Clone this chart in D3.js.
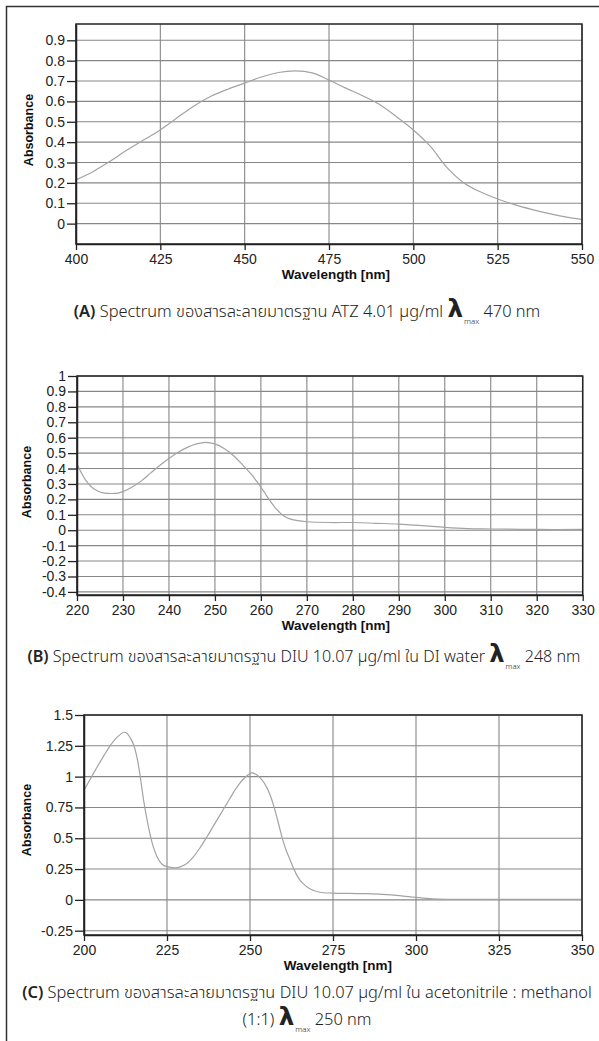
<!DOCTYPE html>
<html><head><meta charset="utf-8">
<script src="https://cdn.jsdelivr.net/npm/d3@7"></script>
<style>
html,body{margin:0;padding:0;background:#fff;}
svg{display:block;}
</style></head>
<body>
<script>
// ---------- DATA ----------
// Panel A: ATZ 4.01 µg/ml
const wavelengthA = [400,405,410,415,420,425,430,435,440,445,450,455,460,465,470,475,480,485,490,495,500,505,510,515,520,525,530,535,540,545,550];
const absorbanceA = [0.215,0.255,0.305,0.36,0.41,0.46,0.52,0.578,0.625,0.66,0.69,0.72,0.742,0.75,0.74,0.705,0.665,0.628,0.585,0.525,0.46,0.38,0.275,0.2,0.155,0.121,0.093,0.07,0.05,0.033,0.02];
const xTicksA = [400,425,450,475,500,525,550];
const yTicksA = [0,0.1,0.2,0.3,0.4,0.5,0.6,0.7,0.8,0.9];

// Panel B: DIU 10.07 µg/ml in DI water
const wavelengthB = [220,221,222,223,224,225,226,227.5,229,230,232,234,236,238,240,242,244,246,248,250,252,254,256,258,259,260,261,262,263,264,265,266,268,270,275,280,285,290,295,300,305,310,320,330];
const absorbanceB = [0.43,0.37,0.32,0.285,0.262,0.248,0.241,0.238,0.241,0.25,0.28,0.32,0.37,0.42,0.465,0.505,0.537,0.56,0.57,0.56,0.53,0.485,0.425,0.36,0.32,0.28,0.235,0.19,0.15,0.118,0.092,0.077,0.062,0.055,0.05,0.05,0.045,0.04,0.03,0.018,0.01,0.008,0.005,0.005];
const xTicksB = [220,230,240,250,260,270,280,290,300,310,320,330];
const yTicksB = [-0.4,-0.3,-0.2,-0.1,0,0.1,0.2,0.3,0.4,0.5,0.6,0.7,0.8,0.9,1];

// Panel C: DIU 10.07 µg/ml in acetonitrile : methanol (1:1)
const wavelengthC = [200,202,204,206,208,210,212,213,214,215,216,217,218,219,220,221,222,223,224,226,227.5,229,231,233,235,237,239,241,243,245,247,249,250.5,252,254,255,256,257,258,259,260,261,262,263,264,265,266,268,271,275,280,285,290,295,300,305,310,320,335,350];
const absorbanceC = [0.89,0.985,1.08,1.17,1.255,1.32,1.36,1.35,1.31,1.255,1.15,0.99,0.8,0.65,0.52,0.42,0.35,0.305,0.28,0.263,0.26,0.268,0.295,0.35,0.425,0.51,0.6,0.69,0.78,0.87,0.95,1.005,1.03,1.015,0.96,0.915,0.855,0.775,0.68,0.575,0.475,0.395,0.33,0.265,0.205,0.163,0.132,0.09,0.062,0.055,0.052,0.05,0.045,0.035,0.02,0.008,0.005,0.005,0.004,0.005];
const xTicksC = [200,225,250,275,300,325,350];
const yTicksC = [-0.25,0,0.25,0.5,0.75,1,1.25,1.5];

const captionA = {tag:"(A)", text:" Spectrum ของสารละลายมาตรฐาน ATZ 4.01 µg/ml ", tail:" 470 nm"};
const captionB = {tag:"(B)", text:" Spectrum ของสารละลายมาตรฐาน DIU 10.07 µg/ml ใน DI water ", tail:" 248 nm"};
const captionC1 = {tag:"(C)", text:" Spectrum ของสารละลายมาตรฐาน DIU 10.07 µg/ml ใน acetonitrile : methanol"};
const captionC2 = {text:"(1:1) ", tail:" 250 nm"};

// ---------- LAYOUT ----------
const W = 599, H = 1041;
const svg = d3.select("body").append("svg").attr("width", W).attr("height", H);
svg.append("rect").attr("width", W).attr("height", H).attr("fill", "#fff");
// outer frame (left + top)
svg.append("path").attr("d", `M6.5,${H} V6.5 H${W}`).attr("fill","none").attr("stroke","#333").attr("stroke-width",1.5);

const fmt = v => String(+v.toFixed(2));
const captionFont = '"Noto Sans","Noto Sans Thai","Open Sans",sans-serif';
const tickFont = '"Liberation Sans",Arial,sans-serif';

function panel(cfg) {
  const x = d3.scaleLinear().domain(cfg.xDomain).range([cfg.left, cfg.right]);
  const y = d3.scaleLinear().domain(cfg.yDomain).range([cfg.bottom, cfg.top]);
  const g = svg.append("g");
  // grid
  g.selectAll("line.hg").data(cfg.yTicks).join("line")
    .attr("x1", cfg.left).attr("x2", cfg.right)
    .attr("y1", d => y(d)).attr("y2", d => y(d))
    .attr("stroke", "#878787").attr("stroke-width", 1.1);
  g.selectAll("line.vg").data(cfg.xTicks).join("line")
    .attr("y1", cfg.top).attr("y2", cfg.bottom)
    .attr("x1", d => x(d)).attr("x2", d => x(d))
    .attr("stroke", "#878787").attr("stroke-width", 1.1);
  // curve
  g.append("path")
    .datum(cfg.xs.map((w, i) => [w, cfg.ys[i]]))
    .attr("fill", "none").attr("stroke", "#a3a3a3").attr("stroke-width", 1.2)
    .attr("d", d3.line().x(d => x(d[0])).y(d => y(d[1])).curve(d3.curveCatmullRom.alpha(0.5)));
  // frame
  g.append("rect").attr("x", cfg.left).attr("y", cfg.top)
    .attr("width", cfg.right - cfg.left).attr("height", cfg.bottom - cfg.top)
    .attr("fill", "none").attr("stroke", "#222").attr("stroke-width", 1.5);
  // axes
  const ya = g.append("g").attr("transform", `translate(${cfg.left},0)`)
    .call(d3.axisLeft(y).tickValues(cfg.yTicks).tickSize(9).tickSizeOuter(0).tickPadding(2).tickFormat(fmt));
  const xa = g.append("g").attr("transform", `translate(0,${cfg.bottom})`)
    .call(d3.axisBottom(x).tickValues(cfg.xTicks).tickSize(6).tickSizeOuter(0).tickPadding(4).tickFormat(fmt));
  [ya, xa].forEach(a => {
    a.attr("font-size", 14).attr("font-family", tickFont);
    a.selectAll(".tick text").attr("font-size", 14).attr("font-family", tickFont).attr("fill", "#222");
    a.select(".domain").attr("stroke", "#222").attr("stroke-width", 1.5);
    a.selectAll(".tick line").attr("stroke", "#222").attr("stroke-width", 1.3);
  });
  // axis titles
  g.append("text").attr("transform", `translate(${cfg.absX},${cfg.absY}) rotate(-90)`)
    .attr("text-anchor", "middle").attr("dominant-baseline", "central")
    .attr("font-family", tickFont).attr("font-weight", "bold")
    .attr("font-size", 12.5).attr("fill", "#111").text("Absorbance");
  g.append("text").attr("x", cfg.wlX).attr("y", cfg.wlY)
    .attr("text-anchor", "middle")
    .attr("font-family", tickFont).attr("font-weight", "bold")
    .attr("font-size", 13.5).attr("fill", "#111").text("Wavelength [nm]");
}

function caption(c, cx, by, size) {
  const t = svg.append("text").attr("x", cx).attr("y", by).attr("text-anchor", "middle")
    .attr("font-family", captionFont).attr("font-size", size).attr("fill", "#222");
  if (c.tag) t.append("tspan").attr("font-weight", 600).text(c.tag);
  t.append("tspan").attr("font-weight", 300).text(c.text);
  if (c.tail) {
    t.append("tspan").attr("font-weight", "bold").attr("font-size", size * 1.5).attr("font-family", '"DejaVu Sans",sans-serif').text("λ");
    t.append("tspan").attr("font-size", size * 0.48).attr("dy", 7).attr("dx", 1).attr("font-weight", 300).text("max");
    t.append("tspan").attr("dy", -7).attr("font-weight", 300).text(c.tail);
  }
}

panel({xDomain:[400,550], yDomain:[-0.1,0.98], left:76, right:582, top:24, bottom:244,
  xTicks:xTicksA, yTicks:yTicksA, xs:wavelengthA, ys:absorbanceA, absX:29, absY:130, wlX:336, wlY:279});
panel({xDomain:[220,330], yDomain:[-0.42,1], left:77, right:582.7, top:376, bottom:595,
  xTicks:xTicksB, yTicks:yTicksB, xs:wavelengthB, ys:absorbanceB, absX:27, absY:482, wlX:336, wlY:630});
panel({xDomain:[200,350], yDomain:[-0.285,1.5], left:84, right:582, top:715, bottom:935,
  xTicks:xTicksC, yTicks:yTicksC, xs:wavelengthC, ys:absorbanceC, absX:27, absY:820, wlX:338, wlY:970});

caption(captionA, 307, 317, 16.4);
caption(captionB, 304, 662, 16.1);
caption(captionC1, 307, 998, 16.4);
caption(captionC2, 307, 1025, 16.4);
</script>
</body></html>
